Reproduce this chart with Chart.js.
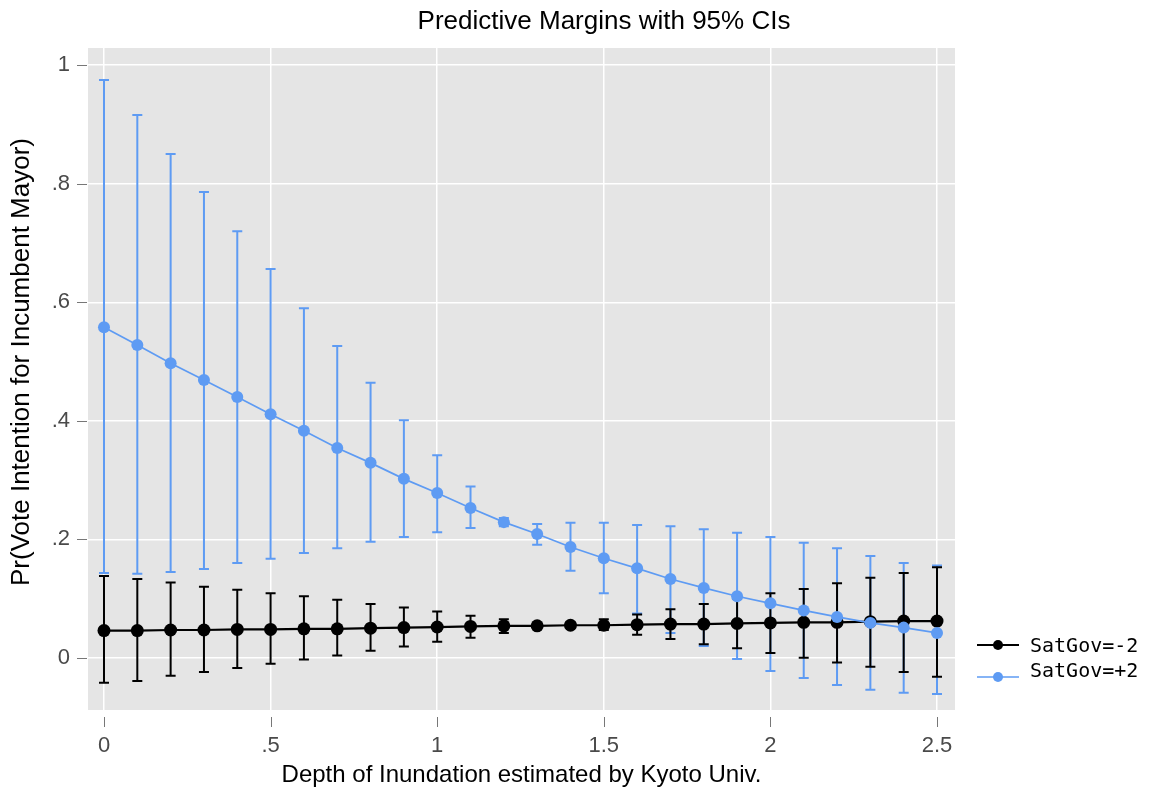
<!DOCTYPE html>
<html>
<head>
<meta charset="utf-8">
<script src="https://cdn.jsdelivr.net/npm/chart.js@4.4.1/dist/chart.umd.min.js"></script>
<style>
  html, body { margin: 0; padding: 0; background: #ffffff; }
  #wrap { width: 1149px; height: 795px; position: relative; }
</style>
</head>
<body>
<div id="wrap"><canvas id="chartMargins"></canvas></div>
<script>
// ── Données ──────────────────────────────────────────────
const depth = [0, 0.1, 0.2, 0.3, 0.4, 0.5, 0.6, 0.7, 0.8, 0.9, 1.0, 1.1, 1.2,
               1.3, 1.4, 1.5, 1.6, 1.7, 1.8, 1.9, 2.0, 2.1, 2.2, 2.3, 2.4, 2.5];

const marginLow  = [0.046, 0.046, 0.047, 0.047, 0.048, 0.048, 0.049, 0.049, 0.050, 0.051, 0.052, 0.053, 0.054,
                    0.054, 0.055, 0.055, 0.056, 0.057, 0.057, 0.058, 0.059, 0.060, 0.060, 0.061, 0.062, 0.062];
const upperLow   = [0.138, 0.133, 0.127, 0.120, 0.115, 0.109, 0.104, 0.098, 0.091, 0.085, 0.078, 0.071, 0.065,
                    0.058, 0.060, 0.065, 0.073, 0.082, 0.091, 0.100, 0.109, 0.116, 0.126, 0.135, 0.143, 0.153];
const lowerLow   = [-0.042, -0.039, -0.030, -0.024, -0.017, -0.010, -0.003, 0.004, 0.012, 0.019, 0.027, 0.034, 0.042,
                    0.051, 0.051, 0.047, 0.039, 0.032, 0.023, 0.016, 0.008, 0.000, -0.008, -0.015, -0.024, -0.032];

const marginHigh = [0.558, 0.528, 0.497, 0.469, 0.440, 0.411, 0.383, 0.354, 0.329, 0.302, 0.278, 0.253, 0.229,
                    0.209, 0.187, 0.168, 0.151, 0.133, 0.118, 0.104, 0.092, 0.080, 0.069, 0.059, 0.051, 0.042];
const upperHigh  = [0.975, 0.916, 0.850, 0.786, 0.720, 0.656, 0.590, 0.526, 0.464, 0.401, 0.342, 0.289, 0.236,
                    0.226, 0.228, 0.228, 0.224, 0.222, 0.217, 0.211, 0.204, 0.194, 0.185, 0.172, 0.160, 0.156];
const lowerHigh  = [0.143, 0.142, 0.145, 0.150, 0.160, 0.167, 0.177, 0.185, 0.196, 0.204, 0.212, 0.219, 0.222,
                    0.191, 0.147, 0.109, 0.075, 0.042, 0.020, -0.002, -0.022, -0.034, -0.046, -0.054, -0.059, -0.061];

const xTickValues = [0, 0.5, 1, 1.5, 2, 2.5];
const xTickLabels = ['0', '.5', '1', '1.5', '2', '2.5'];
const yTickValues = [0, 0.2, 0.4, 0.6, 0.8, 1];
const yTickLabels = ['0', '.2', '.4', '.6', '.8', '1'];

const seriesLabels = ['SatGov=-2', 'SatGov=+2'];
const chartTitle = 'Predictive Margins with 95% CIs';
const xTitle = 'Depth of Inundation estimated by Kyoto Univ.';
const yTitle = 'Pr(Vote Intention for Incumbent Mayor)';

// ── Styles ───────────────────────────────────────────────
const BLUE = '#5e9bf3';
const BLACK = '#000000';
const SANS = "'Liberation Sans', Arial, sans-serif";
const MONO = "'DejaVu Sans Mono', 'Liberation Mono', monospace";

const toPoints = (ys) => depth.map((x, i) => ({ x: x, y: ys[i] }));

// ── Fond gris de la zone de tracé ────────────────────────
const plotBackground = {
    id: 'plotBackground',
    beforeDraw(chart) {
        const { ctx, chartArea: a } = chart;
        ctx.save();
        ctx.fillStyle = '#e5e5e5';
        ctx.fillRect(a.left, a.top, a.right - a.left, a.bottom - a.top);
        ctx.restore();
    }
};

// ── Barres d'erreur (rcap) ───────────────────────────────
const errorBars = {
    id: 'errorBars',
    beforeDatasetsDraw(chart) {
        const { ctx, scales: { x, y } } = chart;
        // bleu d'abord, noir par-dessus
        [1, 0].forEach((di) => {
            const ds = chart.data.datasets[di];
            ctx.save();
            ctx.strokeStyle = ds.ciColor;
            ctx.lineWidth = ds.ciWidth;
            ds.ciUpper.forEach((up, i) => {
                const px = x.getPixelForValue(depth[i]);
                const pu = y.getPixelForValue(up);
                const pl = y.getPixelForValue(ds.ciLower[i]);
                ctx.beginPath();
                ctx.moveTo(px, pu); ctx.lineTo(px, pl);
                ctx.moveTo(px - 5, pu); ctx.lineTo(px + 5, pu);
                ctx.moveTo(px - 5, pl); ctx.lineTo(px + 5, pl);
                ctx.stroke();
            });
            ctx.restore();
        });
    }
};

// ── Titres, graduations externes, légende ────────────────
const extras = {
    id: 'extras',
    afterDraw(chart) {
        const { ctx, chartArea: a, scales: { x, y } } = chart;
        ctx.save();

        ctx.fillStyle = '#000';
        ctx.font = '26px ' + SANS;
        ctx.textAlign = 'center';
        ctx.textBaseline = 'middle';
        ctx.fillText(chartTitle, 604, 22);

        // titre de l'axe Y (centré comme dans Stata)
        ctx.save();
        ctx.translate(22, 362);
        ctx.rotate(-Math.PI / 2);
        ctx.font = '26px ' + SANS;
        ctx.fillText(yTitle, 0, 0);
        ctx.restore();

        ctx.strokeStyle = '#777';
        ctx.lineWidth = 1;
        yTickValues.forEach((v) => {
            const py = Math.round(y.getPixelForValue(v)) + 0.5;
            ctx.beginPath(); ctx.moveTo(a.left - 11, py); ctx.lineTo(a.left - 1, py); ctx.stroke();
        });
        xTickValues.forEach((v) => {
            const px = Math.round(x.getPixelForValue(v)) + 0.5;
            ctx.beginPath(); ctx.moveTo(px, a.bottom + 7); ctx.lineTo(px, a.bottom + 17); ctx.stroke();
        });

        // légende
        const rows = [{ ds: 0, y: 645, ty: 647 }, { ds: 1, y: 677, ty: 672 }];
        rows.forEach((r) => {
            const ds = chart.data.datasets[r.ds];
            ctx.strokeStyle = ds.borderColor;
            ctx.lineWidth = ds.borderWidth;
            ctx.beginPath(); ctx.moveTo(977, r.y); ctx.lineTo(1019, r.y); ctx.stroke();
            ctx.fillStyle = ds.pointBackgroundColor;
            ctx.beginPath(); ctx.arc(998, r.y, 5, 0, Math.PI * 2); ctx.fill();
            ctx.fillStyle = '#000';
            ctx.font = '20px ' + MONO;
            ctx.textAlign = 'left';
            ctx.textBaseline = 'middle';
            ctx.fillText(ds.label, 1030, r.ty);
        });
        ctx.restore();
    }
};

// ── Graphique ────────────────────────────────────────────
document.addEventListener('DOMContentLoaded', () => {
    const el = document.getElementById('chartMargins');
    new Chart(el, {
        type: 'line',
        data: {
            datasets: [{
                label: seriesLabels[0],
                data: toPoints(marginLow),
                ciUpper: upperLow,
                ciLower: lowerLow,
                ciColor: BLACK,
                ciWidth: 2,
                borderColor: BLACK,
                backgroundColor: BLACK,
                pointBackgroundColor: BLACK,
                pointBorderWidth: 0,
                pointRadius: 6.5,
                borderWidth: 2.2,
                tension: 0,
                order: 1
            }, {
                label: seriesLabels[1],
                data: toPoints(marginHigh),
                ciUpper: upperHigh,
                ciLower: lowerHigh,
                ciColor: BLUE,
                ciWidth: 2,
                borderColor: BLUE,
                backgroundColor: BLUE,
                pointBackgroundColor: BLUE,
                pointBorderWidth: 0,
                pointRadius: 6,
                borderWidth: 1.7,
                tension: 0,
                order: 0
            }]
        },
        options: {
            responsive: true,
            maintainAspectRatio: false,
            animation: false,
            layout: { padding: { top: 48, right: 194, left: 0, bottom: 0 } },
            plugins: {
                legend: { display: false },
                title: { display: false },
                tooltip: { enabled: false }
            },
            scales: {
                x: {
                    type: 'linear',
                    min: -0.048,
                    max: 2.554,
                    afterBuildTicks: (s) => { s.ticks = xTickValues.map((v) => ({ value: v })); },
                    afterFit: (s) => { s.height = 85; },
                    grid: { color: '#ffffff', lineWidth: 1.5, drawTicks: false },
                    border: { display: false },
                    ticks: {
                        padding: 23,
                        color: '#4a4a4a',
                        font: { family: SANS, size: 22 },
                        callback: (v, i) => xTickLabels[i]
                    },
                    title: {
                        display: true,
                        text: xTitle,
                        color: '#000',
                        font: { family: SANS, size: 24 },
                        padding: { top: 0, bottom: 5 }
                    }
                },
                y: {
                    min: -0.088,
                    max: 1.029,
                    afterBuildTicks: (s) => { s.ticks = yTickValues.map((v) => ({ value: v })); },
                    afterFit: (s) => { s.width = 88; },
                    grid: { color: '#ffffff', lineWidth: 1.5, drawTicks: false },
                    border: { display: false },
                    ticks: {
                        padding: 18,
                        color: '#4a4a4a',
                        font: { family: SANS, size: 22 },
                        callback: (v, i) => yTickLabels[i]
                    },
                    title: { display: false }
                }
            }
        },
        plugins: [plotBackground, errorBars, extras]
    });
});
</script>
</body>
</html>
